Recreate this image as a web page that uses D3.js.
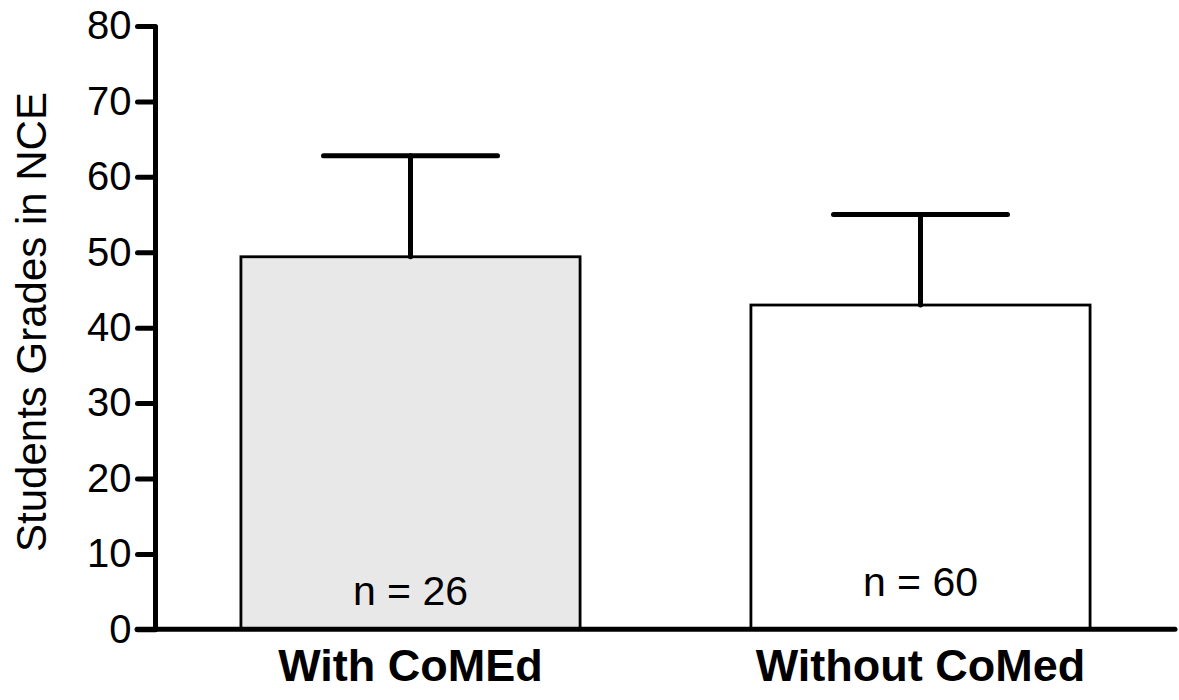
<!DOCTYPE html>
<html>
<head>
<meta charset="utf-8">
<script src="https://cdn.jsdelivr.net/npm/d3@7"></script>
<style>
  html, body { margin: 0; padding: 0; background: #fff; }
  svg { display: block; font-family: Arial, "Liberation Sans", Helvetica, sans-serif; }
</style>
</head>
<body>
<svg id="chart" width="1179" height="700"></svg>
<script>
const categories = ["With CoMEd", "Without CoMed"];
const means = [49.4, 43.0];
const errors = [13.4, 12.0];
const nLabels = ["n = 26", "n = 60"];
const yTicks = [0, 10, 20, 30, 40, 50, 60, 70, 80];
const yTitle = "Students Grades in NCE";

const fills = ["#e8e8e8", "#ffffff"];
const nLabelLift = [24, 33];

const svg = d3.select("#chart");
const x = d3.scaleBand().domain(categories).range([155.5, 1175.5]).paddingInner(0.335).paddingOuter(0.1675);
const y = d3.scaleLinear().domain([0, 80]).range([629.3, 26]);

// bars
svg.append("g").selectAll("rect").data(categories).join("rect")
  .attr("x", d => x(d))
  .attr("y", (d, i) => y(means[i]))
  .attr("width", x.bandwidth())
  .attr("height", (d, i) => y(0) - y(means[i]))
  .attr("fill", (d, i) => fills[i])
  .attr("stroke", "#000")
  .attr("stroke-width", 2.8);

// error bars
const eb = svg.append("g").attr("stroke", "#000").attr("stroke-width", 5).attr("stroke-linecap", "round");
categories.forEach((c, i) => {
  const cx = x(c) + x.bandwidth() / 2;
  eb.append("line").attr("x1", cx).attr("x2", cx).attr("y1", y(means[i])).attr("y2", y(means[i] + errors[i]));
  eb.append("line").attr("x1", cx - 87).attr("x2", cx + 87).attr("y1", y(means[i] + errors[i])).attr("y2", y(means[i] + errors[i]));
});

// n labels
svg.append("g").selectAll("text").data(categories).join("text")
  .attr("x", d => x(d) + x.bandwidth() / 2)
  .attr("y", (d, i) => y(0) - nLabelLift[i])
  .attr("text-anchor", "middle")
  .attr("font-size", 41)
  .text((d, i) => nLabels[i]);

// y axis
const yAxis = svg.append("g").attr("transform", "translate(155.5,0)")
  .call(d3.axisLeft(y).tickValues(yTicks).tickSize(18).tickPadding(6).tickFormat(d3.format("d")));
yAxis.select(".domain").remove();
yAxis.selectAll(".tick line").attr("stroke", "#000").attr("stroke-width", 5).attr("stroke-linecap", "round");
yAxis.selectAll(".tick text").attr("font-size", 40).attr("fill", "#000").attr("font-family", "Arial, 'Liberation Sans', sans-serif");
svg.append("line").attr("x1", 155.5).attr("x2", 155.5).attr("y1", y(80)).attr("y2", y(0))
  .attr("stroke", "#000").attr("stroke-width", 5);

// x axis
const xAxis = svg.append("g").attr("transform", `translate(0,${y(0)})`)
  .call(d3.axisBottom(x).tickSize(0).tickPadding(52));
xAxis.select(".domain").remove();
xAxis.selectAll(".tick text").attr("font-size", 45).attr("font-weight", "bold").attr("fill", "#000")
  .attr("font-family", "Arial, 'Liberation Sans', sans-serif").attr("dy", 0);
svg.append("line").attr("x1", 137).attr("x2", 1175).attr("y1", y(0)).attr("y2", y(0))
  .attr("stroke", "#000").attr("stroke-width", 5).attr("stroke-linecap", "round");

// y title
svg.append("text")
  .attr("transform", `translate(46,${322}) rotate(-90)`)
  .attr("text-anchor", "middle")
  .attr("font-size", 42)
  .text(yTitle);
</script>
</body>
</html>
